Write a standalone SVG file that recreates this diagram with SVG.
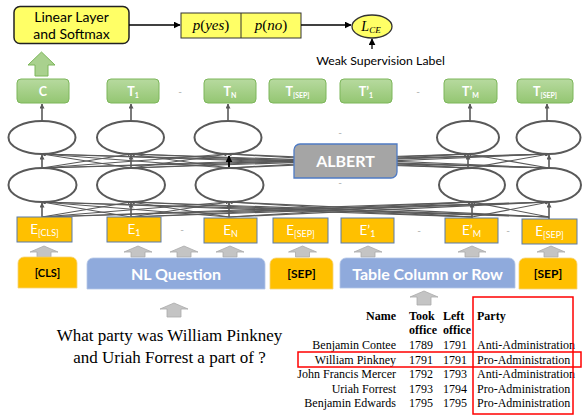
<svg xmlns="http://www.w3.org/2000/svg" width="582" height="415" viewBox="0 0 582 415">
<defs>
<marker id="ah" viewBox="0 0 10 10" refX="9" refY="5" markerWidth="5" markerHeight="5" markerUnits="userSpaceOnUse" orient="auto"><path d="M0,0 L10,5 L0,10 z" fill="#595959"/></marker>
<marker id="ahs" viewBox="0 0 10 10" refX="9" refY="5" markerWidth="4" markerHeight="4" markerUnits="userSpaceOnUse" orient="auto"><path d="M0,0 L10,5 L0,10 z" fill="#595959"/></marker>
<marker id="ahk" viewBox="0 0 10 10" refX="9" refY="5" markerWidth="7" markerHeight="7" markerUnits="userSpaceOnUse" orient="auto"><path d="M0,0 L10,5 L0,10 z" fill="#000"/></marker>
<linearGradient id="gg" x1="0" y1="0" x2="0" y2="1"><stop offset="0" stop-color="#B7DA9F"/><stop offset="1" stop-color="#94C672"/></linearGradient>
</defs>
<style>
.sans{font-family:Lato,"Open Sans","Liberation Sans",sans-serif}
.serif{font-family:"Liberation Serif","Times New Roman",serif}
.tbox{fill:url(#gg);stroke:#7CB65A;stroke-width:1}
.tl{fill:#fff;font-weight:bold;font-size:12.5px;text-anchor:middle}
.sub{font-size:7px}
.ebox{fill:#FFC000;stroke:#5B7BA8;stroke-width:1}
.el{fill:#fff;font-size:13.5px;text-anchor:middle}
.esub{font-size:9px}
.ell{fill:#fff;stroke:#595959;stroke-width:2}
.conn line{stroke:#595959;stroke-width:1.1;fill:none;marker-end:url(#ahs)}
.up{stroke:#595959;stroke-width:1.6;fill:none;marker-end:url(#ah)}
.garr{fill:#C4C4C4;stroke:#ABABAB;stroke-width:0.8}
.dash{fill:#AAAAAA;font-size:10px;text-anchor:middle}
.tt{font-size:12px;fill:#000}
.red{fill:none;stroke:#FF0000;stroke-width:1.5}
</style>
<rect width="582" height="415" fill="#fff"/>

<!-- top row -->
<g id="linear">
<rect x="14" y="6.5" width="115" height="37" rx="6" fill="#FFFF66" stroke="#222" stroke-width="1.5"/>
<text class="sans" x="71.5" y="22" font-size="14" text-anchor="middle">Linear Layer</text>
<text class="sans" x="71.5" y="39" font-size="14" text-anchor="middle">and Softmax</text>
</g>
<g id="probs">
<rect x="181" y="13" width="120" height="25" fill="#FFFF66" stroke="#333" stroke-width="1"/>
<line x1="241" y1="13" x2="241" y2="38" stroke="#333" stroke-width="1"/>
<text class="serif" x="211" y="30" font-size="15" text-anchor="middle" font-style="italic">p<tspan font-style="normal">(</tspan>yes<tspan font-style="normal">)</tspan></text>
<text class="serif" x="271" y="30" font-size="15" text-anchor="middle" font-style="italic">p<tspan font-style="normal">(</tspan>no<tspan font-style="normal">)</tspan></text>
</g>
<g id="lce">
<ellipse cx="372" cy="26.5" rx="20" ry="11.5" fill="#FFFF66" stroke="#333" stroke-width="1.3"/>
<text class="serif" x="371" y="31" font-size="14" text-anchor="middle" font-style="italic">L<tspan font-size="9" dy="2">CE</tspan></text>
</g>
<g id="wsl">
<text class="sans" x="380.5" y="65" font-size="12.3" text-anchor="middle">Weak Supervision Label</text>
</g>
<g id="green-arrow">
<polygon points="41.5,52 55,65 48,65 48,76 35,76 35,65 28,65" fill="#A9D18E" stroke="#7CB65A" stroke-width="1"/>
</g>

<!-- T row -->
<g id="T-C"><rect class="tbox" x="17" y="79" width="52" height="24" rx="4"/><text class="sans tl" x="43" y="96">C</text></g>
<g id="T-1"><rect class="tbox" x="107" y="79" width="52" height="24" rx="4"/><text class="sans tl" x="133" y="96">T<tspan class="sub" dy="2">1</tspan></text></g>
<g id="T-N"><rect class="tbox" x="204" y="79" width="52" height="24" rx="4"/><text class="sans tl" x="230" y="96">T<tspan class="sub" dy="2">N</tspan></text></g>
<g id="T-SEP1"><rect class="tbox" x="269" y="79" width="57" height="24" rx="4"/><text class="sans tl" x="297.5" y="96">T<tspan class="sub" dy="2">[SEP]</tspan></text></g>
<g id="T-p1"><rect class="tbox" x="340" y="79" width="52" height="24" rx="4"/><text class="sans tl" x="366" y="96">T’<tspan class="sub" dy="2">1</tspan></text></g>
<g id="T-pM"><rect class="tbox" x="444" y="79" width="53" height="24" rx="4"/><text class="sans tl" x="470.5" y="96">T’<tspan class="sub" dy="2">M</tspan></text></g>
<g id="T-SEP2"><rect class="tbox" x="517" y="79" width="56" height="24" rx="4"/><text class="sans tl" x="545" y="96">T<tspan class="sub" dy="2">[SEP]</tspan></text></g>
<text class="sans dash" x="180" y="95">-</text>
<text class="sans dash" x="418" y="95">-</text>

<!-- connectors -->
<g id="connectors">
<line x1="129" y1="25" x2="180" y2="25" stroke="#000" stroke-width="1.3" marker-end="url(#ahk)"/>
<line x1="301" y1="25" x2="351" y2="25" stroke="#000" stroke-width="1.3" marker-end="url(#ahk)"/>
<line x1="372" y1="49" x2="372" y2="39" stroke="#000" stroke-width="1.3" marker-end="url(#ahk)"/>
<!-- ellipse to T -->
<line class="up" x1="42" y1="121" x2="42" y2="104"/>
<line class="up" x1="131" y1="121" x2="131" y2="104"/>
<line class="up" x1="228" y1="121" x2="228" y2="104"/>
<line class="up" x1="470" y1="121" x2="470" y2="104"/>
<line class="up" x1="547" y1="121" x2="547" y2="104"/>
<!-- upper layer -->
<g class="conn">
<line x1="42" y1="168" x2="131" y2="154"/><line x1="42" y1="168" x2="228" y2="154"/><line x1="42" y1="168" x2="468" y2="154"/><line x1="42" y1="168" x2="549" y2="154"/>
<line x1="131" y1="168" x2="42" y2="154"/><line x1="131" y1="168" x2="228" y2="154"/><line x1="131" y1="168" x2="468" y2="154"/><line x1="131" y1="168" x2="549" y2="154"/>
<line x1="229" y1="168" x2="42" y2="154"/><line x1="229" y1="168" x2="131" y2="154"/><line x1="229" y1="168" x2="468" y2="154"/><line x1="229" y1="168" x2="549" y2="154"/>
<line x1="470" y1="168" x2="42" y2="154"/><line x1="470" y1="168" x2="131" y2="154"/><line x1="470" y1="168" x2="228" y2="154"/><line x1="470" y1="168" x2="549" y2="154"/>
<line x1="549" y1="168" x2="42" y2="154"/><line x1="549" y1="168" x2="131" y2="154"/><line x1="549" y1="168" x2="228" y2="154"/><line x1="549" y1="168" x2="468" y2="154"/>
</g>
<line class="up" x1="42" y1="168" x2="42" y2="155"/>
<line class="up" x1="131" y1="168" x2="131" y2="155"/>
<line x1="229" y1="168" x2="229" y2="156" stroke="#000" stroke-width="1.8" marker-end="url(#ahk)"/>
<line class="up" x1="468" y1="168" x2="468" y2="155"/>
<line class="up" x1="549" y1="168" x2="549" y2="155"/>
<!-- lower layer -->
<g class="conn">
<line x1="42" y1="217" x2="131" y2="202"/><line x1="42" y1="217" x2="229" y2="202"/><line x1="42" y1="217" x2="472" y2="202"/><line x1="42" y1="217" x2="549" y2="202"/>
<line x1="131" y1="217" x2="42" y2="202"/><line x1="131" y1="217" x2="229" y2="202"/><line x1="131" y1="217" x2="472" y2="202"/><line x1="131" y1="217" x2="549" y2="202"/>
<line x1="229" y1="217" x2="42" y2="202"/><line x1="229" y1="217" x2="131" y2="202"/><line x1="229" y1="217" x2="472" y2="202"/><line x1="229" y1="217" x2="549" y2="202"/>
<line x1="472" y1="217" x2="42" y2="202"/><line x1="472" y1="217" x2="131" y2="202"/><line x1="472" y1="217" x2="229" y2="202"/><line x1="472" y1="217" x2="549" y2="202"/>
<line x1="549" y1="217" x2="42" y2="202"/><line x1="549" y1="217" x2="131" y2="202"/><line x1="549" y1="217" x2="229" y2="202"/><line x1="549" y1="217" x2="472" y2="202"/>
</g>
<line class="up" x1="42" y1="217" x2="42" y2="203"/>
<line class="up" x1="131" y1="217" x2="131" y2="203"/>
<line class="up" x1="229" y1="217" x2="229" y2="203"/>
<line class="up" x1="472" y1="218" x2="472" y2="203"/>
<line class="up" x1="549" y1="219" x2="549" y2="203"/>
</g>

<!-- ellipses -->
<g id="ell-upper">
<ellipse class="ell" cx="42" cy="137.5" rx="33.5" ry="16.5"/>
<ellipse class="ell" cx="130.5" cy="137.5" rx="33.5" ry="16.5"/>
<ellipse class="ell" cx="228" cy="137.5" rx="33.5" ry="16.5"/>
<ellipse class="ell" cx="468" cy="137.5" rx="31" ry="16.5"/>
<ellipse class="ell" cx="548.5" cy="137.5" rx="32" ry="16.5"/>
</g>
<g id="ell-lower">
<ellipse class="ell" cx="42.5" cy="185" rx="34" ry="17"/>
<ellipse class="ell" cx="131" cy="185" rx="34" ry="17"/>
<ellipse class="ell" cx="229.5" cy="185" rx="34" ry="17"/>
<ellipse class="ell" cx="472" cy="185" rx="33" ry="17"/>
<ellipse class="ell" cx="549" cy="185" rx="32" ry="17"/>
</g>

<g id="albert">
<path d="M300,144 H397 V172 A6,6 0 0 1 391,178 H294 V150 A6,6 0 0 1 300,144 Z" fill="#A5A5A5" stroke="#4F7BC4" stroke-width="1.3"/>
<text class="sans" x="345.5" y="167" font-size="16" font-weight="bold" fill="#fff" text-anchor="middle">ALBERT</text>
</g>
<text class="sans dash" x="340" y="136">-</text>
<text class="sans dash" x="340" y="186">-</text>

<!-- E row -->
<g id="E-CLS"><rect class="ebox" x="17" y="217" width="55" height="25"/><text class="sans el" x="44.5" y="234">E<tspan class="esub" dy="2">[CLS]</tspan></text></g>
<g id="E-1"><rect class="ebox" x="107" y="217" width="54" height="25"/><text class="sans el" x="134" y="234">E<tspan class="esub" dy="2">1</tspan></text></g>
<g id="E-N"><rect class="ebox" x="204" y="218" width="53" height="25"/><text class="sans el" x="230.5" y="235">E<tspan class="esub" dy="2">N</tspan></text></g>
<g id="E-SEP1"><rect class="ebox" x="273" y="218" width="55" height="25"/><text class="sans el" x="300.5" y="235">E<tspan class="esub" dy="2">[SEP]</tspan></text></g>
<g id="E-p1"><rect class="ebox" x="341" y="218" width="53" height="25"/><text class="sans el" x="367.5" y="235">E’<tspan class="esub" dy="2">1</tspan></text></g>
<g id="E-pM"><rect class="ebox" x="445" y="218" width="53" height="25"/><text class="sans el" x="471.5" y="235">E’<tspan class="esub" dy="2">M</tspan></text></g>
<g id="E-SEP2"><rect class="ebox" x="522" y="219" width="55" height="25"/><text class="sans el" x="549.5" y="236">E<tspan class="esub" dy="2">[SEP]</tspan></text></g>
<text class="sans dash" x="182" y="233">-</text>
<text class="sans dash" x="419" y="234">-</text>
<text class="sans dash" x="508" y="234">-</text>

<!-- gray arrows -->
<g id="gray-arrows">
<polygon class="garr" points="44,246 58,252 51,252 51,257 37,257 37,252 30,252"/>
<polygon class="garr" points="138,246 152,252 145,252 145,257 131,257 131,252 124,252"/>
<polygon class="garr" points="184,246 198,252 191,252 191,257 177,257 177,252 170,252"/>
<polygon class="garr" points="230,246 244,252 237,252 237,257 223,257 223,252 216,252"/>
<polygon class="garr" points="302.5,246 316.5,252 309.5,252 309.5,257 295.5,257 295.5,252 288.5,252"/>
<polygon class="garr" points="368,246 382,252 375,252 375,257 361,257 361,252 354,252"/>
<polygon class="garr" points="472,246 486,252 479,252 479,257 465,257 465,252 458,252"/>
<polygon class="garr" points="551,246 565,252 558,252 558,257 544,257 544,252 537,252"/>
<polygon class="garr" points="174,303 188,309 181,309 181,317 167,317 167,309 160,309"/>
<polygon class="garr" points="424,291 438,297 431,297 431,305 417,305 417,297 410,297"/>
</g>

<!-- input boxes -->
<g id="in-CLS"><path d="M24,257 H71 A6,6 0 0 1 77,263 V288 H18 V263 A6,6 0 0 1 24,257 Z" fill="#FFC000" stroke="#F5D37A" stroke-width="0.8"/><text class="sans" x="47.5" y="277" font-size="11" font-weight="bold" text-anchor="middle">[CLS]</text></g>
<g id="in-NL"><path d="M93,258 H259 A6,6 0 0 1 265,264 V289 H87 V264 A6,6 0 0 1 93,258 Z" fill="#8FAADC" stroke="#B4C7E7" stroke-width="0.8"/><text class="sans" x="176" y="280" font-size="16" font-weight="bold" fill="#fff" text-anchor="middle">NL Question</text></g>
<g id="in-SEP1"><path d="M276,258 H327 A6,6 0 0 1 333,264 V289 H270 V264 A6,6 0 0 1 276,258 Z" fill="#FFC000" stroke="#F5D37A" stroke-width="0.8"/><text class="sans" x="301.5" y="278" font-size="12" font-weight="bold" text-anchor="middle">[SEP]</text></g>
<g id="in-Table"><path d="M346,258 H509 A6,6 0 0 1 515,264 V288 H340 V264 A6,6 0 0 1 346,258 Z" fill="#8FAADC" stroke="#B4C7E7" stroke-width="0.8"/><text class="sans" x="427.5" y="280" font-size="16" font-weight="bold" fill="#fff" text-anchor="middle">Table Column or Row</text></g>
<g id="in-SEP2"><path d="M525,258 H571 A6,6 0 0 1 577,264 V289 H519 V264 A6,6 0 0 1 525,258 Z" fill="#FFC000" stroke="#F5D37A" stroke-width="0.8"/><text class="sans" x="548" y="278" font-size="12" font-weight="bold" text-anchor="middle">[SEP]</text></g>

<!-- question -->
<g id="question">
<text class="serif" x="169.5" y="341" font-size="17" text-anchor="middle">What party was William Pinkney</text>
<text class="serif" x="169.5" y="363" font-size="17" text-anchor="middle">and Uriah Forrest a part of ?</text>
</g>

<!-- table -->
<g id="table" class="serif">
<text class="tt" x="396" y="320" text-anchor="end" font-weight="bold">Name</text>
<text class="tt" x="409" y="320" font-weight="bold">Took</text>
<text class="tt" x="409" y="334" font-weight="bold">office</text>
<text class="tt" x="443" y="320" font-weight="bold">Left</text>
<text class="tt" x="443" y="334" font-weight="bold">office</text>
<text class="tt" x="477" y="320" font-weight="bold">Party</text>
<text class="tt" x="396" y="349" text-anchor="end">Benjamin Contee</text>
<text class="tt" x="409" y="349">1789</text><text class="tt" x="443" y="349">1791</text><text class="tt" x="477" y="349">Anti-Administration</text>
<text class="tt" x="396" y="363.5" text-anchor="end">William Pinkney</text>
<text class="tt" x="409" y="363.5">1791</text><text class="tt" x="443" y="363.5">1791</text><text class="tt" x="477" y="363.5">Pro-Administration</text>
<text class="tt" x="396" y="378" text-anchor="end">John Francis Mercer</text>
<text class="tt" x="409" y="378">1792</text><text class="tt" x="443" y="378">1793</text><text class="tt" x="477" y="378">Anti-Administration</text>
<text class="tt" x="396" y="392.5" text-anchor="end">Uriah Forrest</text>
<text class="tt" x="409" y="392.5">1793</text><text class="tt" x="443" y="392.5">1794</text><text class="tt" x="477" y="392.5">Pro-Administration</text>
<text class="tt" x="396" y="407" text-anchor="end">Benjamin Edwards</text>
<text class="tt" x="409" y="407">1795</text><text class="tt" x="443" y="407">1795</text><text class="tt" x="477" y="407">Pro-Administration</text>
<rect class="red" x="473" y="297" width="100" height="117"/>
<rect class="red" x="298" y="352" width="283" height="15"/>
</g>
</svg>
